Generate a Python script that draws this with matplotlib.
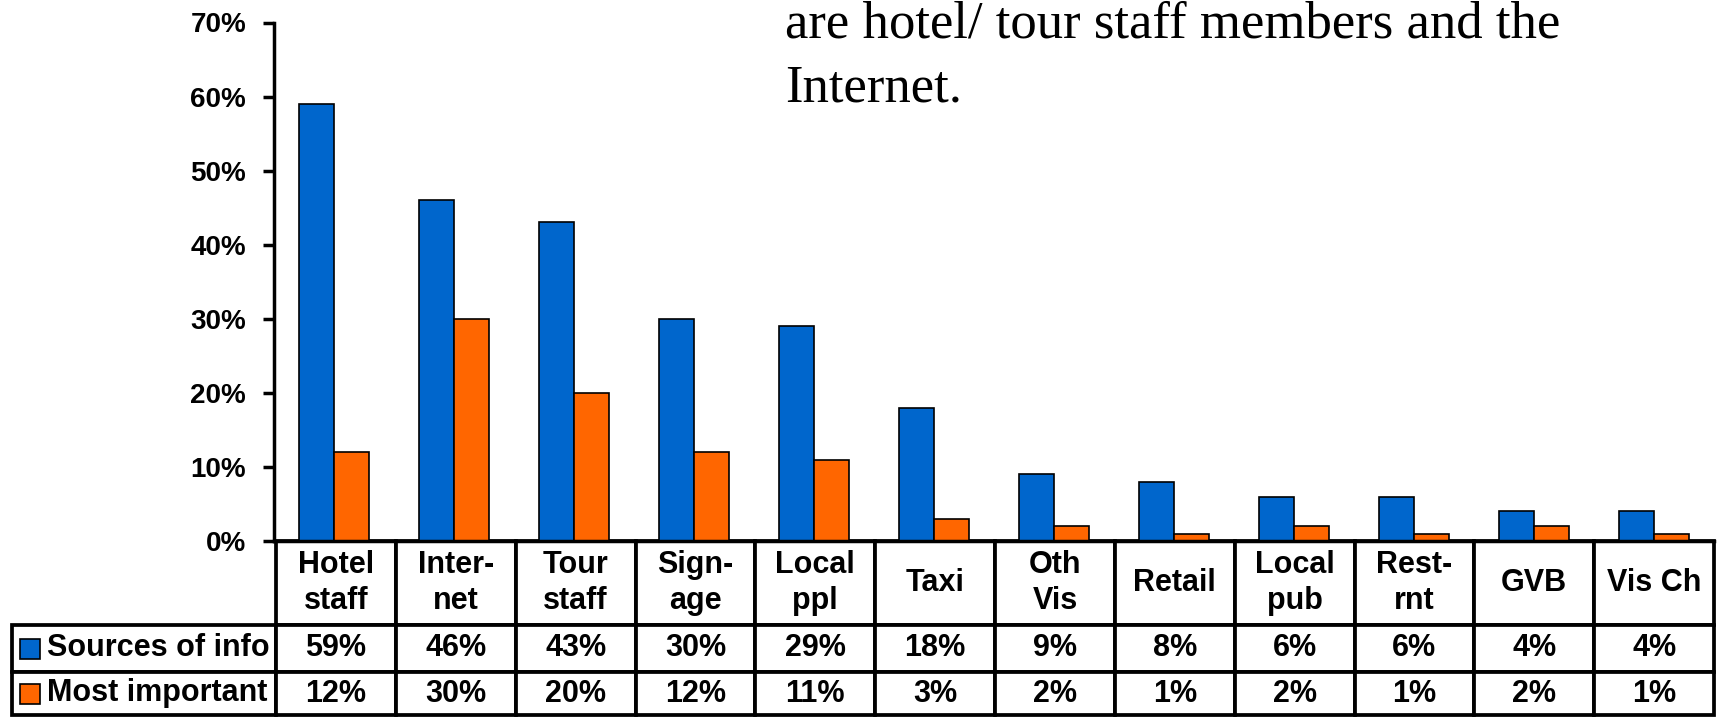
import numpy as np
import matplotlib
matplotlib.use("Agg")
import matplotlib.pyplot as plt
from matplotlib.patches import Rectangle
from matplotlib.ticker import PercentFormatter

plt.rcParams['font.family'] = ['Liberation Sans', 'DejaVu Sans']

categories = ["Hotel\nstaff", "Inter-\nnet", "Tour\nstaff", "Sign-\nage", "Local\nppl", "Taxi",
              "Oth\nVis", "Retail", "Local\npub", "Rest-\nrnt", "GVB", "Vis Ch"]
sources = [59, 46, 43, 30, 29, 18, 9, 8, 6, 6, 4, 4]
important = [12, 30, 20, 12, 11, 3, 2, 1, 2, 1, 2, 1]
series_names = ["Sources of info", "Most important"]
blue = "#0066CC"
orange = "#FF6600"

W, H = 1718, 717
fig = plt.figure(figsize=(W / 100, H / 100), dpi=100)
ax = fig.add_axes([274 / W, 1 - 541 / H, 1440 / W, 518.5 / H])

x = np.arange(len(categories))
bw = 0.29
ax.bar(x - bw / 2, sources, bw, color=blue, edgecolor="black", linewidth=1.2)
ax.bar(x + bw / 2, important, bw, color=orange, edgecolor="black", linewidth=1.2)

ax.set_xlim(-0.5, len(categories) - 0.5)
ax.set_ylim(0, 70)
ax.set_yticks(np.arange(0, 71, 10))
ax.yaxis.set_major_formatter(PercentFormatter(decimals=0))
ax.tick_params(axis="y", length=8, width=2.5, pad=12, labelsize=20)
for lab in ax.get_yticklabels():
    lab.set_fontweight("bold")
ax.set_xticks([])
for s in ["top", "right"]:
    ax.spines[s].set_visible(False)
ax.spines["left"].set_linewidth(2.5)
ax.spines["bottom"].set_linewidth(2.5)

# data table under the bars, first column holds the series names
cell_text = [[series_names[0]] + [f"{v}%" for v in sources],
             [series_names[1]] + [f"{v}%" for v in important]]
tbl = ax.table(cellText=cell_text, colLabels=[""] + categories,
               cellLoc="center", colLoc="center",
               colWidths=[264 / 1702] + [119.8 / 1702] * 12,
               bbox=[-262 / 1440, -174 / 518.5, 1702 / 1440, 174 / 518.5])
tbl.auto_set_font_size(False)
tbl.set_fontsize(22)
row_h = {0: 84, 1: 47, 2: 43}
for (r, c), cell in tbl.get_celld().items():
    cell.set_height(row_h[r] / 518.5)
    cell.set_linewidth(2.7)
    cell.get_text().set_fontweight("bold")
    if r == 0:
        cell.get_text().set_linespacing(1.3)
    if c == 0:
        cell.PAD = 0.133
        cell.get_text().set_horizontalalignment("left")
        if r == 0:
            cell.visible_edges = "open"

# legend keys inside the row label cells
for i, col in enumerate([blue, orange]):
    yc = [648.5, 693.5][i]
    ax.add_patch(Rectangle(((20 - 274) / 1440, (541 - yc - 10) / 518.5), 20 / 1440, 20 / 518.5,
                           transform=ax.transAxes, facecolor=col, edgecolor="black",
                           linewidth=1.2, clip_on=False, zorder=5))

fig.text(785 / W, 1 - 37 / H, "are hotel/ tour staff members and the",
         family="Liberation Serif", fontsize=38, va="baseline", ha="left")
fig.text(785 / W, 1 - 102 / H, "Internet.",
         family="Liberation Serif", fontsize=38, va="baseline", ha="left")

fig.savefig("out.png", dpi=100)
